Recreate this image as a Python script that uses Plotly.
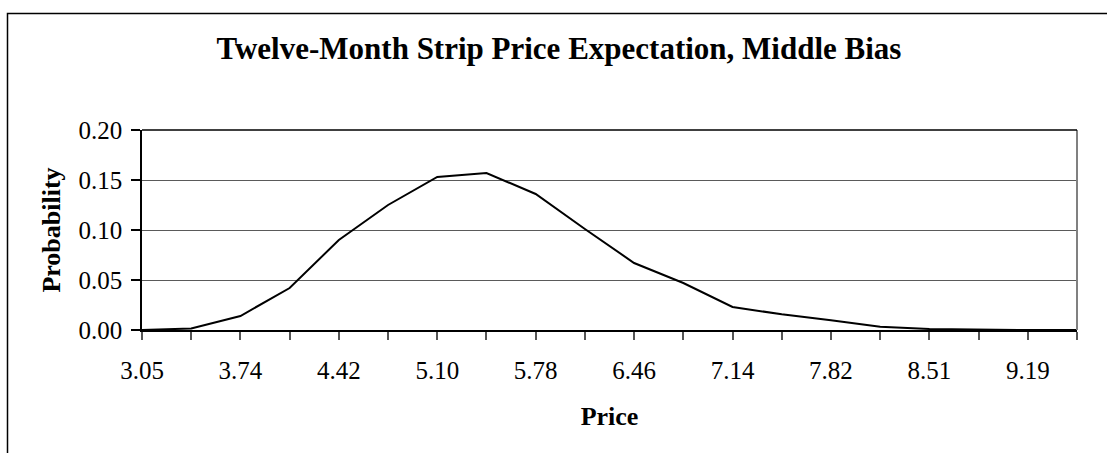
import plotly.graph_objects as go

# Price categories (every other one is labelled on the axis)
prices = ["3.05", "3.39", "3.74", "4.08", "4.42", "4.76", "5.10", "5.44", "5.78", "6.12",
          "6.46", "6.80", "7.14", "7.48", "7.82", "8.17", "8.51", "8.85", "9.19", "9.53"]
probability = [0.000, 0.0015, 0.014, 0.042, 0.090, 0.125, 0.153, 0.157, 0.136, 0.101,
               0.067, 0.047, 0.023, 0.0157, 0.0097, 0.0033, 0.001, 0.0003, 0.000, 0.000]
tick_labels = [p if i % 2 == 0 else "" for i, p in enumerate(prices)]
y_ticks = [0.00, 0.05, 0.10, 0.15, 0.20]

FONT = "Liberation Serif, Times New Roman, serif"

fig = go.Figure()
fig.add_trace(go.Scatter(
    x=list(range(len(prices))), y=probability, mode="lines",
    line=dict(color="black", width=2), hoverinfo="skip", showlegend=False,
))

fig.update_layout(
    width=1107, height=453,
    margin=dict(l=142, r=30, t=130, b=123),
    paper_bgcolor="white", plot_bgcolor="white",
    font=dict(family=FONT, color="black", size=25),
    title=dict(text="<b>Twelve-Month Strip Price Expectation, Middle Bias</b>",
               x=559 / 1107, xanchor="center", y=1 - 48 / 453, yanchor="middle",
               font=dict(size=31, family=FONT)),
    showlegend=False,
)

fig.update_xaxes(
    type="linear", range=[0, len(prices) - 1],
    tickmode="array", tickvals=list(range(len(prices))), ticktext=tick_labels,
    ticks="outside", ticklen=8, tickcolor="#555", tickwidth=1.5,
    showline=True, linecolor="black", linewidth=1.5,
    showgrid=False, zeroline=False,
    tickfont=dict(size=25, family=FONT), ticklabelstandoff=9,
    title=dict(text="<b>Price</b>", font=dict(size=26, family=FONT), standoff=24),
)
fig.update_yaxes(
    range=[0, 0.2], tickmode="array", tickvals=y_ticks,
    ticktext=[f"{v:.2f}" for v in y_ticks],
    ticks="outside", ticklen=9, tickcolor="black", tickwidth=1.5,
    showline=True, linecolor="black", linewidth=1.5,
    showgrid=True, gridcolor="#5a5a5a", gridwidth=1, zeroline=False,
    tickfont=dict(size=25, family=FONT), ticklabelstandoff=4,
    title=dict(text="<b>Probability</b>", font=dict(size=26, family=FONT), standoff=10),
)

# Plot-area right edge
fig.add_shape(type="line", xref="paper", yref="paper", x0=1, x1=1, y0=0, y1=1,
              line=dict(color="#808080", width=2))
# Top edge of plot area
fig.add_shape(type="line", xref="paper", yref="paper", x0=0, x1=1, y0=1, y1=1,
              line=dict(color="black", width=1.5))
# Chart-area frame (runs past the right and bottom of the page)
fig.add_shape(type="rect", xref="paper", yref="paper",
              x0=(7.5 - 142) / 935, x1=1.2, y0=-0.8, y1=(330 - 13.5) / 200,
              line=dict(color="black", width=1.5), fillcolor="rgba(0,0,0,0)", layer="below")

fig.write_html("out.html")
